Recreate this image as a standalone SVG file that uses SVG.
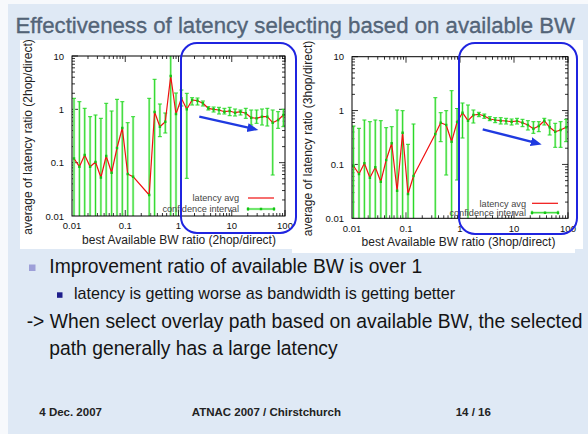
<svg xmlns="http://www.w3.org/2000/svg" xmlns:xlink="http://www.w3.org/1999/xlink" width="588" height="434" viewBox="0 0 588 434">
<style>
text{font-family:"Liberation Sans",Arial,sans-serif}
.title{font-size:22.2px;fill:#56677b;stroke:#46566a;stroke-width:0.3}
.tick{font-size:9.5px;fill:#111}
.axt{font-size:12px;fill:#222}
.leg{font-size:9.2px;fill:#444}
.frame{fill:none;stroke:#000;stroke-width:1}
.tk{fill:none;stroke:#000;stroke-width:0.8}
.barbg{fill:none;stroke:#b8f5b2;stroke-width:2.4}
.bar{fill:none;stroke:#2ad82a;stroke-width:1}
.cap{fill:none;stroke:#2ad82a;stroke-width:1}
.red{fill:none;stroke:#f01010;stroke-width:1.2;stroke-linejoin:round}
.mk{fill:none;stroke:#14c414;stroke-width:2.4;stroke-linecap:square}
.hl{fill:none;stroke:#1f24e0;stroke-width:2}
.arr{fill:none;stroke:#1f3ae0;stroke-width:2.4}
.b1{font-size:19.3px;fill:#141414}
.b2{font-size:16.1px;fill:#141414}
.foot{font-size:11.5px;font-weight:bold;fill:#222}
</style>
<defs>
<marker id="ah" markerUnits="userSpaceOnUse" markerWidth="12" markerHeight="10" refX="3" refY="4.5" orient="auto">
<path d="M0 0L11 4.5L0 9z" fill="#1f3ae0"/>
</marker>
<clipPath id="clipL"><rect x="72" y="56" width="213" height="160"/></clipPath>
<clipPath id="clipR"><rect x="352" y="56.7" width="216" height="161.6"/></clipPath>
<path id="lxd" d="M16 0v-3M25.4 0v-3M32.1 0v-3M37.2 0v-3M41.4 0v-3M45 0v-3M48.1 0v-3M50.8 0v-3M53.25 0v-6"/>
<path id="lyd" d="M0 -16.05h3M0 -25.44h3M0 -32.11h3M0 -37.28h3M0 -41.5h3M0 -45.07h3M0 -48.16h3M0 -50.88h3M0 -53.33h6"/>
<path id="rxd" d="M16.26 0v-3M25.76 0v-3M32.51 0v-3M37.75 0v-3M42.02 0v-3M45.64 0v-3M48.76 0v-3M51.53 0v-3M54 0v-6"/>
<path id="ryd" d="M0 -16.22h3M0 -25.7h3M0 -32.43h3M0 -37.66h3M0 -41.92h3M0 -45.53h3M0 -48.65h3M0 -51.41h3M0 -53.87h6"/>
</defs>

<g id="slide-bg">
<rect x="0" y="0" width="588" height="434" fill="#f7f9fc"/>
<rect x="8" y="4" width="580" height="430" fill="#dfe9f5"/>
<rect x="20" y="40" width="563" height="209" fill="#ffffff"/>
<rect x="292" y="249" width="283" height="4" fill="#ffffff"/>
</g>

<g id="title">
<text class="title" x="15.5" y="33.3">Effectiveness of latency selecting based on available BW</text>
</g>

<g id="plot-left">
<text class="axt" transform="translate(28,137) rotate(-90)" text-anchor="middle" dominant-baseline="central">average of latency ratio (2hop/direct)</text>
<text class="axt" x="179" y="244" text-anchor="middle">best Available BW ratio (2hop/direct)</text>
<g class="tick" text-anchor="end" dominant-baseline="central">
<text x="64" y="56">10</text><text x="64" y="109.3">1</text><text x="64" y="162.7">0.1</text><text x="64" y="216">0.01</text>
</g>
<g class="tick" text-anchor="middle">
<text x="72" y="228.5">0.01</text><text x="125.25" y="228.5">0.1</text><text x="178.5" y="228.5">1</text><text x="231.75" y="228.5">10</text><text x="285" y="228.5">100</text>
</g>
<g class="tk">
<use xlink:href="#lxd" x="72" y="216"/><use xlink:href="#lxd" x="125.25" y="216"/><use xlink:href="#lxd" x="178.5" y="216"/><use xlink:href="#lxd" x="231.75" y="216"/>
<use xlink:href="#lxd" transform="translate(72,56) scale(1,-1)"/><use xlink:href="#lxd" transform="translate(125.25,56) scale(1,-1)"/><use xlink:href="#lxd" transform="translate(178.5,56) scale(1,-1)"/><use xlink:href="#lxd" transform="translate(231.75,56) scale(1,-1)"/>
<use xlink:href="#lyd" x="72" y="216"/><use xlink:href="#lyd" x="72" y="162.67"/><use xlink:href="#lyd" x="72" y="109.33"/>
<use xlink:href="#lyd" transform="translate(285,216) scale(-1,1)"/><use xlink:href="#lyd" transform="translate(285,162.67) scale(-1,1)"/><use xlink:href="#lyd" transform="translate(285,109.33) scale(-1,1)"/>
</g>
<g clip-path="url(#clipL)">
<path class="barbg" d="M74 98.3V230M79.4 101.7V230M84.7 108.3V230M90.1 116.7V230M95.5 115V230M100.9 118.3V230M106.2 103.3V230M111.6 111V230M117 99.3V230M122.3 101.7V230M127.7 122.7V230M133.1 116.7V230M149.2 98.3V230M154.6 79.3V230M159.9 104V136.7M165.3 113V133M170.7 40V230M176 93V230M181.4 90V106M186.8 93.3V178.3M192.1 97.7V105M197.5 98V105M202.9 101V106M208.3 106.7V110M213.6 107V112M219 107.3V114M224.4 108.3V114M229.7 107.3V115.7M235.1 109V116M240.5 110V115M245.8 108.3V118.3M251.2 110V125M256.6 110V123.3M262 109V125M267.3 108.3V126M272.7 110V175M278.1 111.7V128.3M283.4 109.3V126.7"/>
<path class="bar" d="M74 98.3V230M79.4 101.7V230M84.7 108.3V230M90.1 116.7V230M95.5 115V230M100.9 118.3V230M106.2 103.3V230M111.6 111V230M117 99.3V230M122.3 101.7V230M127.7 122.7V230M133.1 116.7V230M149.2 98.3V230M154.6 79.3V230M159.9 104V136.7M165.3 113V133M170.7 40V230M176 93V230M181.4 90V106M186.8 93.3V178.3M192.1 97.7V105M197.5 98V105M202.9 101V106M208.3 106.7V110M213.6 107V112M219 107.3V114M224.4 108.3V114M229.7 107.3V115.7M235.1 109V116M240.5 110V115M245.8 108.3V118.3M251.2 110V125M256.6 110V123.3M262 109V125M267.3 108.3V126M272.7 110V175M278.1 111.7V128.3M283.4 109.3V126.7"/>
<path class="cap" d="M72 98.3h4M77.4 101.7h4M82.7 108.3h4M88.1 116.7h4M93.5 115h4M98.9 118.3h4M104.2 103.3h4M109.6 111h4M115 99.3h4M120.3 101.7h4M125.7 122.7h4M131.1 116.7h4M147.2 98.3h4M152.6 79.3h4M157.9 104h4M157.9 136.7h4M163.3 113h4M163.3 133h4M174 93h4M179.4 90h4M179.4 106h4M184.8 93.3h4M184.8 178.3h4M190.1 97.7h4M190.1 105h4M195.5 98h4M195.5 105h4M200.9 101h4M200.9 106h4M206.3 106.7h4M206.3 110h4M211.6 107h4M211.6 112h4M217 107.3h4M217 114h4M222.4 108.3h4M222.4 114h4M227.7 107.3h4M227.7 115.7h4M233.1 109h4M233.1 116h4M238.5 110h4M238.5 115h4M243.8 108.3h4M243.8 118.3h4M249.2 110h4M249.2 125h4M254.6 110h4M254.6 123.3h4M260 109h4M260 125h4M265.3 108.3h4M265.3 126h4M270.7 110h4M270.7 175h4M276.1 111.7h4M276.1 128.3h4M281.4 109.3h4M281.4 126.7h4"/>
<polyline class="red" points="74,158.5 79.4,166.7 84.7,155 90.1,166.7 95.5,162 100.9,177.5 106.2,156 111.6,172.7 117,148 122.3,128 127.7,174 133.1,176.7 149.2,195 154.6,112 159.9,126.7 165.3,121.7 170.7,76 176,114 181.4,98.3 186.8,109.3 192.1,100 197.5,100.7 202.9,103.3 208.3,108.3 213.6,109.3 219,110 224.4,111.7 229.7,111 235.1,112.7 240.5,111.7 245.8,113.3 251.2,117.7 256.6,118.3 262,116.7 267.3,116.7 272.7,122.7 278.1,120 283.4,115"/>
<path class="mk" d="M74 158.5h0M79.4 166.7h0M84.7 155h0M90.1 166.7h0M95.5 162h0M100.9 177.5h0M106.2 156h0M111.6 172.7h0M117 148h0M122.3 128h0M127.7 174h0M133.1 176.7h0M149.2 195h0M154.6 112h0M159.9 126.7h0M165.3 121.7h0M170.7 76h0M176 114h0M181.4 98.3h0M186.8 109.3h0M192.1 100h0M197.5 100.7h0M202.9 103.3h0M208.3 108.3h0M213.6 109.3h0M219 110h0M224.4 111.7h0M229.7 111h0M235.1 112.7h0M240.5 111.7h0M245.8 113.3h0M251.2 117.7h0M256.6 118.3h0M262 116.7h0M267.3 116.7h0M272.7 122.7h0M278.1 120h0M283.4 115h0"/>
</g>
<rect class="frame" x="72" y="56" width="213" height="160"/>
<g id="legend-left">
<text class="leg" x="239" y="201" text-anchor="end">latency avg</text>
<line class="red" x1="248" y1="198" x2="274" y2="198"/>
<text class="leg" x="239" y="212" text-anchor="end">confidence interval</text>
<line class="barbg" x1="248" y1="209" x2="274" y2="209"/>
<path class="cap" d="M248 209h26M248 207v4M274 207v4"/>
<path class="mk" d="M248 209h0M261 209h0M274 209h0"/>
</g>
</g>

<g id="plot-right">
<text class="axt" transform="translate(307.5,138.5) rotate(-90)" text-anchor="middle" dominant-baseline="central">average of latency ratio (3hop/direct)</text>
<text class="axt" x="458.5" y="245.7" text-anchor="middle">best Available BW ratio (3hop/direct)</text>
<g class="tick" text-anchor="end" dominant-baseline="central">
<text x="344" y="56.7">10</text><text x="344" y="110.6">1</text><text x="344" y="164.4">0.1</text><text x="344" y="218.3">0.01</text>
</g>
<g class="tick" text-anchor="middle">
<text x="352" y="231.5">0.01</text><text x="406" y="231.5">0.1</text><text x="460" y="231.5">1</text><text x="514" y="231.5">10</text><text x="568" y="231.5">100</text>
</g>
<g class="tk">
<use xlink:href="#rxd" x="352" y="218.3"/><use xlink:href="#rxd" x="406" y="218.3"/><use xlink:href="#rxd" x="460" y="218.3"/><use xlink:href="#rxd" x="514" y="218.3"/>
<use xlink:href="#rxd" transform="translate(352,56.7) scale(1,-1)"/><use xlink:href="#rxd" transform="translate(406,56.7) scale(1,-1)"/><use xlink:href="#rxd" transform="translate(460,56.7) scale(1,-1)"/><use xlink:href="#rxd" transform="translate(514,56.7) scale(1,-1)"/>
<use xlink:href="#ryd" x="352" y="218.3"/><use xlink:href="#ryd" x="352" y="164.43"/><use xlink:href="#ryd" x="352" y="110.57"/>
<use xlink:href="#ryd" transform="translate(568,218.3) scale(-1,1)"/><use xlink:href="#ryd" transform="translate(568,164.43) scale(-1,1)"/><use xlink:href="#ryd" transform="translate(568,110.57) scale(-1,1)"/>
</g>
<g clip-path="url(#clipR)">
<path class="barbg" d="M353.5 126V230M359 128.3V230M364.4 120V230M369.9 121.7V230M375.3 120V230M380.8 120.7V230M386.2 127.7V230M391.7 126.7V230M397.1 110V230M402.6 110.7V230M408 144.3V230M413.5 124V230M435.3 97.7V230M440.7 112.7V141.7M446.2 110.7V175M451.6 90.7V230M457.1 108.5V180M462.5 103V138M468 105V230M473.4 110V123M478.9 112.3V116.7M484.3 114V118.3M489.8 116.7V120.7M495.2 117.7V122.7M500.7 117.7V124M506.1 118.3V124M511.6 119V125M517 118.3V124M522.5 119.3V126.7M527.9 120.7V130M533.4 121.7V133.3M538.8 121.7V131.7M544.3 118.3V125M549.7 120V135M555.2 123.3V147.3M560.6 121.7V147.3M566.1 119.3V141.7"/>
<path class="bar" d="M353.5 126V230M359 128.3V230M364.4 120V230M369.9 121.7V230M375.3 120V230M380.8 120.7V230M386.2 127.7V230M391.7 126.7V230M397.1 110V230M402.6 110.7V230M408 144.3V230M413.5 124V230M435.3 97.7V230M440.7 112.7V141.7M446.2 110.7V175M451.6 90.7V230M457.1 108.5V180M462.5 103V138M468 105V230M473.4 110V123M478.9 112.3V116.7M484.3 114V118.3M489.8 116.7V120.7M495.2 117.7V122.7M500.7 117.7V124M506.1 118.3V124M511.6 119V125M517 118.3V124M522.5 119.3V126.7M527.9 120.7V130M533.4 121.7V133.3M538.8 121.7V131.7M544.3 118.3V125M549.7 120V135M555.2 123.3V147.3M560.6 121.7V147.3M566.1 119.3V141.7"/>
<path class="cap" d="M351.5 126h4M357 128.3h4M362.4 120h4M367.9 121.7h4M373.3 120h4M378.8 120.7h4M384.2 127.7h4M389.7 126.7h4M395.1 110h4M400.6 110.7h4M406 144.3h4M411.5 124h4M433.3 97.7h4M438.7 112.7h4M438.7 141.7h4M444.2 110.7h4M444.2 175h4M449.6 90.7h4M455.1 108.5h4M455.1 180h4M460.5 103h4M460.5 138h4M466 105h4M471.4 110h4M471.4 123h4M476.9 112.3h4M476.9 116.7h4M482.3 114h4M482.3 118.3h4M487.8 116.7h4M487.8 120.7h4M493.2 117.7h4M493.2 122.7h4M498.7 117.7h4M498.7 124h4M504.1 118.3h4M504.1 124h4M509.6 119h4M509.6 125h4M515 118.3h4M515 124h4M520.5 119.3h4M520.5 126.7h4M525.9 120.7h4M525.9 130h4M531.4 121.7h4M531.4 133.3h4M536.8 121.7h4M536.8 131.7h4M542.3 118.3h4M542.3 125h4M547.7 120h4M547.7 135h4M553.2 123.3h4M553.2 147.3h4M558.6 121.7h4M558.6 147.3h4M564.1 119.3h4M564.1 141.7h4"/>
<polyline class="red" points="353.5,166 359,174 364.4,163.3 369.9,177.7 375.3,167.3 380.8,181.7 386.2,160 391.7,143.3 397.1,190.7 402.6,132.7 408,194 413.5,176 435.3,134 440.7,122.7 446.2,125 451.6,141.7 457.1,122 462.5,112.7 468,120.7 473.4,115 478.9,114.3 484.3,116 489.8,119 495.2,120 500.7,120.7 506.1,121 511.6,121.7 517,121 522.5,122.7 527.9,125 533.4,128.7 538.8,126 544.3,120.7 549.7,127.3 555.2,131.7 560.6,130 566.1,127.3"/>
<path class="mk" d="M353.5 166h0M359 174h0M364.4 163.3h0M369.9 177.7h0M375.3 167.3h0M380.8 181.7h0M386.2 160h0M391.7 143.3h0M397.1 190.7h0M402.6 132.7h0M408 194h0M413.5 176h0M435.3 134h0M440.7 122.7h0M446.2 125h0M451.6 141.7h0M457.1 122h0M462.5 112.7h0M468 120.7h0M473.4 115h0M478.9 114.3h0M484.3 116h0M489.8 119h0M495.2 120h0M500.7 120.7h0M506.1 121h0M511.6 121.7h0M517 121h0M522.5 122.7h0M527.9 125h0M533.4 128.7h0M538.8 126h0M544.3 120.7h0M549.7 127.3h0M555.2 131.7h0M560.6 130h0M566.1 127.3h0"/>
</g>
<rect class="frame" x="352" y="56.7" width="216" height="161.6"/>
<g id="legend-right">
<text class="leg" x="526" y="206.5" text-anchor="end">latency avg</text>
<line class="red" x1="532" y1="203.3" x2="558" y2="203.3"/>
<text class="leg" x="526" y="216" text-anchor="end">confidence interval</text>
<line class="barbg" x1="532" y1="212.7" x2="558" y2="212.7"/>
<path class="cap" d="M532 212.7h26M532 210.7v4M558 210.7v4"/>
<path class="mk" d="M532 212.7h0M545 212.7h0M558 212.7h0"/>
</g>
</g>

<g id="highlights">
<rect id="hl-left" class="hl" x="181" y="43" width="115" height="190" rx="16" ry="16"/>
<rect id="hl-right" class="hl" x="459" y="43" width="118" height="191" rx="16" ry="16"/>
<line id="arrow-left" class="arr" x1="199.3" y1="116.7" x2="250.5" y2="128.2" marker-end="url(#ah)"/>
<line id="arrow-right" class="arr" x1="482.7" y1="129.3" x2="533.9" y2="142.4" marker-end="url(#ah)"/>
</g>

<g id="bullets">
<rect x="29" y="264.5" width="6.5" height="6.5" fill="#9d9fd8"/>
<text class="b1" x="49.3" y="273.3">Improvement ratio of available BW is over 1</text>
<rect x="57" y="292.3" width="5.5" height="5.5" fill="#1e1e8c"/>
<text class="b2" x="74" y="299.3">latency is getting worse as bandwidth is getting better</text>
<text class="b1" x="26.7" y="327.7">-&gt; When select overlay path based on available BW, the selected</text>
<text class="b1" x="49.3" y="355">path generally has a large latency</text>
</g>

<g id="footer">
<text class="foot" x="39.3" y="415.8">4 Dec. 2007</text>
<text class="foot" x="191.7" y="415.8">ATNAC 2007 / Chirstchurch</text>
<text class="foot" x="455.7" y="415.8">14 / 16</text>
</g>
</svg>
